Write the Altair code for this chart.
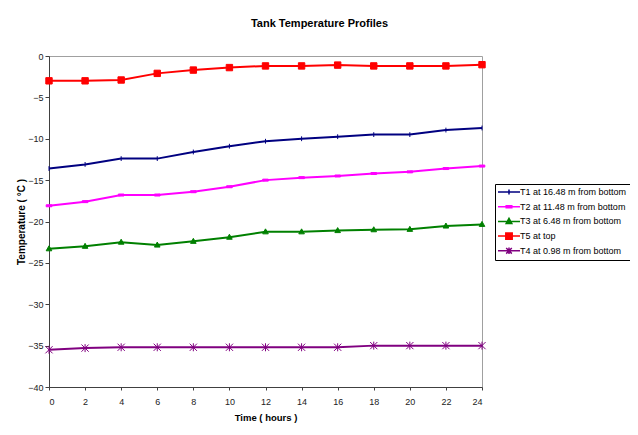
import altair as alt
import pandas as pd

hours = [0, 2, 4, 6, 8, 10, 12, 14, 16, 18, 20, 22, 24]

series_names = [
    "T1 at 16.48 m from bottom",
    "T2 at 11.48 m from bottom",
    "T3 at 6.48 m from bottom",
    "T5 at top",
    "T4 at 0.98 m from bottom",
]
series_colors = ["#000080", "#FF00FF", "#008000", "#FF0000", "#800080"]

t1 = [-13.6, -13.1, -12.4, -12.4, -11.6, -10.9, -10.3, -10.0, -9.75, -9.5, -9.5, -8.95, -8.7]
t2 = [-18.1, -17.6, -16.8, -16.8, -16.4, -15.8, -15.0, -14.7, -14.5, -14.2, -14.0, -13.6, -13.3]
t3 = [-23.3, -23.0, -22.5, -22.85, -22.4, -21.9, -21.25, -21.25, -21.1, -21.0, -20.95, -20.55, -20.35]
t5 = [-3.0, -3.0, -2.9, -2.1, -1.7, -1.4, -1.2, -1.2, -1.1, -1.2, -1.2, -1.2, -1.05]
t4 = [-35.5, -35.3, -35.2, -35.2, -35.2, -35.2, -35.2, -35.2, -35.2, -35.0, -35.0, -35.0, -35.0]

x_ticks = [0, 2, 4, 6, 8, 10, 12, 14, 16, 18, 20, 22, 24]
y_ticks = [-40, -35, -30, -25, -20, -15, -10, -5, 0]

# marker shapes (plot) and legend symbols (line + marker)
marker_paths = [
    "M0,-0.6L0,0.6",
    "M-0.7,-0.25L0.7,-0.25L0.7,0.25L-0.7,0.25Z",
    "M0,-0.75L0.7,0.5L-0.7,0.5Z",
    "M-0.8,-0.8L0.8,-0.8L0.8,0.8L-0.8,0.8Z",
    "M-0.9,-0.9L0.9,0.9M-0.9,0.9L0.9,-0.9M0,-1L0,1",
]
legend_markers = [
    "M0,-0.6L0,0.6",
    "M-0.7,-0.25L0.7,-0.25L0.7,0.25L-0.7,0.25Z",
    "M0,-0.75L0.7,0.5L-0.7,0.5Z",
    "M-0.8,-0.8L0.8,-0.8L0.8,0.8L-0.8,0.8Z",
    "M-0.7,-0.7L0.7,0.7M-0.7,0.7L0.7,-0.7M0,-0.8L0,0.8",
]
# equal-height legend symbols: invisible move-to points fix the bounds
legend_line = "M0,-0.8M0,0.8M-2.75,0L2.75,0"
legend_paths = [legend_line + p for p in legend_markers]

values = {
    series_names[0]: t1,
    series_names[1]: t2,
    series_names[2]: t3,
    series_names[3]: t5,
    series_names[4]: t4,
}
rows = []
for name in series_names:
    for h, v in zip(hours, values[name]):
        rows.append({"series": name, "time": h, "temp": v})
df = pd.DataFrame(rows)

FONT = "Liberation Sans"

x_enc = alt.X(
    "time:Q",
    scale=alt.Scale(domain=[0, 24], nice=False),
    axis=alt.Axis(values=x_ticks, title="Time ( hours )", grid=False, format="d",
                  labelFontSize=9, titleFontSize=9.5, titleFontWeight="bold",
                  tickSize=3, labelPadding=7, titlePadding=6),
)
y_enc = alt.Y(
    "temp:Q",
    scale=alt.Scale(domain=[-40, 0], nice=False),
    axis=alt.Axis(values=y_ticks, title="Temperature ( °C )", grid=False, format="d",
                  labelFontSize=9, titleFontSize=10, titleFontWeight="bold",
                  tickSize=4, labelPadding=2, titlePadding=1),
)

color_scale = alt.Scale(domain=series_names, range=series_colors)

leg = alt.Legend(
    title=None, orient="none", legendX=446, legendY=128,
    strokeColor="#000000", padding=3, labelFontSize=9, labelFont=FONT,
    labelColor="#000000",
    symbolSize=64, symbolStrokeWidth=1.5, symbolOffset=6, labelOffset=6,
    rowPadding=0.7,
)

base = alt.Chart(df)

lines = base.mark_line(strokeWidth=2).encode(
    x=x_enc,
    y=y_enc,
    stroke=alt.Stroke("series:N", scale=color_scale, legend=leg),
    detail="series:N",
)

point_layers = []
for i, name in enumerate(series_names):
    point_layers.append(
        base.transform_filter(alt.datum.series == name)
        .mark_point(shape=marker_paths[i], size=64, strokeWidth=1, opacity=1,
                    filled=True, fill=series_colors[i], stroke=series_colors[i])
        .encode(x=x_enc, y=y_enc)
    )

legend_layer = base.transform_filter("datum.time < 0").mark_point(
    size=64, strokeWidth=1.5, opacity=1, filled=True
).encode(
    x=x_enc,
    y=y_enc,
    stroke=alt.Stroke("series:N", scale=color_scale, legend=leg),
    fill=alt.Fill("series:N", scale=color_scale, legend=leg),
    shape=alt.Shape("series:N", scale=alt.Scale(domain=series_names, range=legend_paths), legend=leg),
)

chart = alt.layer(lines, *point_layers, legend_layer).properties(
    width=433,
    height=331,
    padding={"left": 41, "top": 48, "right": 148, "bottom": 40},
    autosize=alt.AutoSizeParams(type="none"),
    title=alt.Title("Tank Temperature Profiles", fontSize=11, fontWeight="bold",
                    anchor="middle", dx=54, offset=23, font=FONT, color="#000000"),
).configure(
    font=FONT,
).configure_view(
    stroke="#A0A0A0", strokeWidth=1,
).configure_axis(
    labelFont=FONT, titleFont=FONT, labelColor="#222222", titleColor="#000000",
    domainColor="#404040", tickColor="#404040", domainWidth=1,
)

chart.save("out.html", embed_options={"renderer": "svg", "actions": False})
